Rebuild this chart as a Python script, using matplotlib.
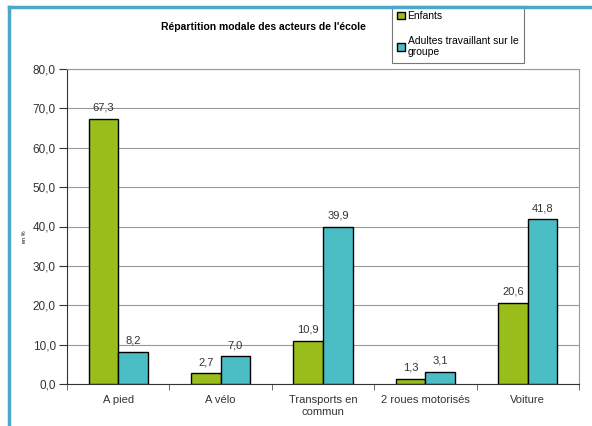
import matplotlib.pyplot as plt
import numpy as np

plt.rcParams['font.family'] = ['Liberation Sans', 'DejaVu Sans']

categories = ["A pied", "A vélo", "Transports en\ncommun", "2 roues motorisés", "Voiture"]
enfants = [67.3, 2.7, 10.9, 1.3, 20.6]
adultes = [8.2, 7.0, 39.9, 3.1, 41.8]
series_names = ["Enfants", "Adultes travaillant sur le\ngroupe"]
yticks = [0, 10, 20, 30, 40, 50, 60, 70, 80]

green = "#99BD1B"
teal = "#4BBDC5"

fig = plt.figure(figsize=(5.92, 4.26), dpi=100)
ax = fig.add_axes([67/592, 1-384/426, (579-67)/592, (384-69)/426])

x = np.arange(len(categories))
w = 0.29
b1 = ax.bar(x - w/2, enfants, w, color=green, edgecolor="black", linewidth=1, zorder=3, label=series_names[0])
b2 = ax.bar(x + w/2, adultes, w, color=teal, edgecolor="black", linewidth=1, zorder=3, label=series_names[1])

for bars, vals in ((b1, enfants), (b2, adultes)):
    for r, v in zip(bars, vals):
        ax.annotate(f"{v:.1f}".replace(".", ","), (r.get_x() + r.get_width()/2, v),
                    textcoords="offset points", xytext=(0, 8), ha="center", va="center",
                    fontsize=8, color="#333333")

ax.set_xlim(-0.5, len(categories) - 0.5)
ax.set_ylim(0, 80)
ax.set_yticks(yticks)
ax.set_yticklabels([f"{t:.1f}".replace(".", ",") for t in yticks], fontsize=8.5, color="#333333")
ax.yaxis.grid(True, color="#999999", linewidth=0.8, zorder=0)

ax.set_xticks(x)
ax.set_xticklabels(categories, fontsize=8, color="#333333")
ax.tick_params(axis="x", length=0, pad=8)
ax.set_xticks(np.arange(-0.5, len(categories)), minor=True)
ax.tick_params(axis="x", which="minor", length=4, direction="out", color="#555555")
ax.tick_params(axis="y", length=6, direction="out", color="#333333", pad=2)

for s in ("top", "right"):
    ax.spines[s].set_color("#999999")
ax.spines["left"].set_color("#333333")
ax.spines["bottom"].set_color("#333333")

fig.text(25/592, 1-237/426, "en %", rotation=90, ha="center", va="center", fontsize=4)

fig.text(263/592, 1-27/426, "Répartition modale des acteurs de l'école",
         ha="center", va="center", fontsize=7.5, fontweight="bold")

leg = fig.legend(handles=[b1, b2], labels=series_names, loc="upper left",
                 bbox_to_anchor=(392/592, 1-6/426), fontsize=7.5,
                 frameon=True, fancybox=False, edgecolor="#555555",
                 handlelength=0.7, handleheight=0.7, handletextpad=0.3,
                 labelspacing=1.4, borderpad=0.5, borderaxespad=0)
leg.get_frame().set_linewidth(0.8)

# blue frame around the chart
fig.add_artist(plt.Line2D([9/592, 9/592], [0, 1-7/426], color="#4BA8C8", linewidth=2.5, zorder=10))
fig.add_artist(plt.Line2D([9/592, 1], [1-7/426, 1-7/426], color="#4BA8C8", linewidth=2.5, zorder=10))

fig.savefig("out.png", dpi=100)
